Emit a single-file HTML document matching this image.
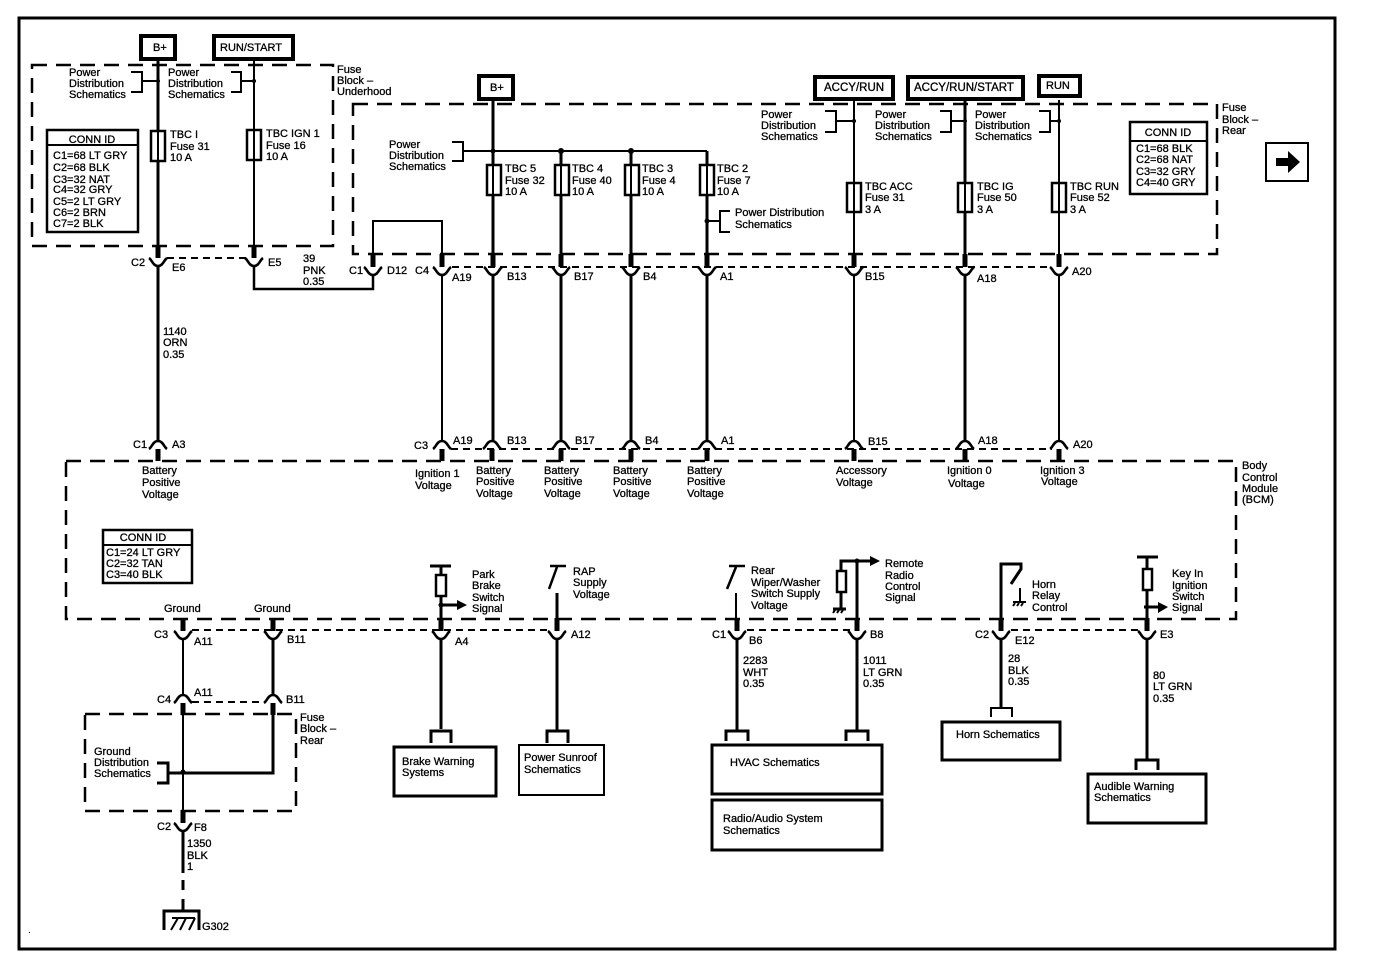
<!DOCTYPE html>
<html><head><meta charset="utf-8"><style>
html,body{margin:0;padding:0;background:#fff;width:1376px;height:978px;overflow:hidden}
svg{display:block}
text{font-family:"Liberation Sans",sans-serif;font-size:11px;fill:#000;stroke:#000;stroke-width:.3}
.l{fill:none;stroke:#000;stroke-width:2}
.m{fill:none;stroke:#000;stroke-width:3}
.s{fill:none;stroke:#000;stroke-width:2.5}
.b{fill:none;stroke:#000;stroke-width:2.5;stroke-dasharray:15 9}
.d{fill:none;stroke:#000;stroke-width:2;stroke-dasharray:7 5}
.t{fill:#fff;stroke:#000;stroke-width:4}
.x{fill:#fff;stroke:#000;stroke-width:2.5}
.h{font-size:11.5px}
</style></head><body>
<svg width="1376" height="978" viewBox="0 0 1376 978" xmlns="http://www.w3.org/2000/svg">
<defs>
<g id="dn"><path d="M0 -13V0" stroke="#000" stroke-width="5" fill="none"/><path d="M-9 0C-6 2 -5 8 0 8C5 8 6 2 9 0" fill="none" stroke="#000" stroke-width="2.6"/></g>
<g id="up"><path d="M0 0V12" stroke="#000" stroke-width="5" fill="none"/><path d="M-9 0C-6 -2 -5 -8 0 -8C5 -8 6 -2 9 0" fill="none" stroke="#000" stroke-width="2.6"/></g>
</defs>
<rect x="19" y="18" width="1316" height="931" fill="none" stroke="#000" stroke-width="3"/>
<rect x="29" y="932" width="1" height="1" fill="#000"/>

<!-- dashed enclosures -->
<rect class="b" x="32" y="65" width="301" height="181"/>
<rect class="b" x="353" y="104" width="864" height="150"/>
<rect class="b" x="66" y="461" width="1170" height="158"/>
<rect class="b" x="85" y="714" width="211" height="97"/>

<!-- dashed connector rows -->
<path class="d" d="M167 258H246"/>
<path class="d" d="M452 267H1052"/>
<path class="d" d="M451 449H1052"/>
<path class="d" d="M192 630H547"/>
<path class="d" d="M747 630H850"/>
<path class="d" d="M1011 630H1140"/>
<path class="d" d="M192 702H265"/>

<!-- power boxes -->
<rect class="t" x="141" y="36" width="34" height="23"/>
<rect class="t" x="214" y="36" width="79" height="23"/>
<rect class="t" x="479" y="76" width="34" height="23"/>
<rect class="t" x="815" y="77" width="78" height="22"/>
<rect class="t" x="908" y="77" width="115" height="22"/>
<rect class="t" x="1039" y="76" width="41" height="20"/>

<!-- upper wires -->
<path class="m" d="M158 61V245M158 266V441"/>
<path class="l" d="M254 61V245"/>
<path class="s" d="M254 266V289H373V275"/>
<path class="l" d="M373 254V221H442V256"/>
<path class="l" d="M442 275V441"/>
<path class="m" d="M493 100V256"/>
<path class="m" d="M493 275V441M561 275V441M631 275V441M707 275V441"/>
<path class="l" d="M463 151H707"/>
<path class="m" d="M561 151V256M631 151V256M707 151V256"/>
<path class="l" d="M854 100V256M854 275V441"/>
<path class="m" d="M965 100V256M965 275V441"/>
<path class="l" d="M1059 100V256M1059 275V441"/>

<!-- brackets -->
<path class="l" d="M131 72H142V92H131M142 81H158"/>
<path class="l" d="M231 72H241V92H231M241 81H254"/>
<path class="l" d="M452 142H463V161H452"/>
<path class="l" d="M730 211H720V232H730M720 221H707"/>
<path class="l" d="M825 111H836V132H825M836 121H854"/>
<path class="l" d="M940 111H951V132H940M951 121H965"/>
<path class="l" d="M1039 111H1050V132H1039M1050 121H1059"/>
<g fill="#000"><circle cx="158" cy="81" r="2"/><circle cx="254" cy="81" r="2"/><circle cx="493" cy="151" r="2.5"/><circle cx="561" cy="151" r="3"/><circle cx="631" cy="151" r="3"/><circle cx="707" cy="221" r="2.5"/><circle cx="854" cy="121" r="2"/><circle cx="965" cy="121" r="2"/><circle cx="1059" cy="121" r="2"/><circle cx="183" cy="772" r="2.5"/><circle cx="441" cy="605" r="2.5"/><circle cx="857" cy="561" r="2.5"/></g>

<!-- fuses -->
<rect class="x" x="151" y="131" width="14" height="30"/>
<rect class="x" x="247" y="130" width="14" height="30"/>
<rect class="x" x="487" y="165" width="14" height="30"/>
<rect class="x" x="555" y="165" width="14" height="30"/>
<rect class="x" x="625" y="165" width="14" height="30"/>
<rect class="x" x="700" y="165" width="14" height="30"/>
<rect class="x" x="847" y="183" width="14" height="29"/>
<rect class="x" x="958" y="183" width="14" height="29"/>
<rect class="x" x="1052" y="183" width="14" height="29"/>
<path class="l" d="M158 131V161M254 130V160M493 165V195M561 165V195M631 165V195M707 165V195M854 183V212M965 183V212M1059 183V212"/>

<!-- connectors -->
<use href="#dn" x="158" y="258"/><use href="#dn" x="254" y="258"/>
<use href="#dn" x="373" y="267"/><use href="#dn" x="442" y="267"/><use href="#dn" x="493" y="267"/><use href="#dn" x="561" y="267"/><use href="#dn" x="631" y="267"/><use href="#dn" x="707" y="267"/><use href="#dn" x="854" y="267"/><use href="#dn" x="965" y="267"/><use href="#dn" x="1059" y="267"/>
<use href="#up" x="158" y="449"/><use href="#up" x="442" y="449"/><use href="#up" x="492" y="449"/><use href="#up" x="561" y="449"/><use href="#up" x="631" y="449"/><use href="#up" x="707" y="449"/><use href="#up" x="854" y="449"/><use href="#up" x="965" y="449"/><use href="#up" x="1059" y="449"/>
<use href="#dn" x="183" y="631"/><use href="#dn" x="273" y="631"/><use href="#dn" x="441" y="631"/><use href="#dn" x="557" y="631"/><use href="#dn" x="737" y="631"/><use href="#dn" x="857" y="631"/><use href="#dn" x="1001" y="631"/><use href="#dn" x="1147" y="631"/>
<use href="#up" x="183" y="703"/><use href="#up" x="273" y="703"/>
<use href="#dn" x="183" y="823"/>

<!-- conn id boxes -->
<rect x="47" y="130" width="91" height="102" class="x"/><path class="l" d="M47 145H138"/>
<rect x="1130" y="122" width="77" height="72" class="x"/><path class="l" d="M1130 141H1207"/>
<rect x="103" y="530" width="89" height="53" class="x"/><path class="l" d="M103 545H192"/>

<!-- nav arrow -->
<rect x="1266" y="143" width="42" height="38" fill="#fff" stroke="#000" stroke-width="2"/>
<path d="M1276 158H1288V151L1300 162L1288 173V166H1276Z" fill="#000"/>

<!-- lower left -->
<path class="l" d="M183 638V695M183 714V811"/>
<path class="m" d="M273 638V695M273 714V773H168"/>
<path class="m" d="M157 763H168V783H157"/>
<path class="m" d="M183 830V873M183 880V890M183 899V910"/>
<path class="m" d="M164 930V911H199V930"/>
<path class="l" d="M172 918H195M178 918L171 930M186 918L180 930M195 918L189 930"/>

<!-- park brake -->
<path class="m" d="M430 566H451"/><path class="m" d="M441 566V575M441 596V618"/>
<rect class="x" x="436" y="575" width="10" height="21"/>
<path class="m" d="M441 605H457"/><path d="M457 600L467 605L457 610Z" fill="#000"/>
<path class="m" d="M441 640V729"/>
<path class="m" d="M431 743V731H451V743"/>
<rect class="m" x="394" y="747" width="102" height="49"/>

<!-- RAP -->
<path class="s" d="M550 566H566M557 567L549 589"/>
<path class="m" d="M557 593V618"/>
<path class="m" d="M557 640V730"/>
<path class="m" d="M547 743V731H568V743"/>
<rect class="l" x="519" y="745" width="85" height="50"/>

<!-- rear wiper -->
<path class="s" d="M729 566H745M736 567L727 589"/>
<path class="l" d="M736 593V618"/>
<path class="m" d="M737 638V731"/>
<path class="m" d="M726 741V731H748V741"/>
<rect class="m" x="712" y="745" width="170" height="49"/>
<rect class="m" x="712" y="800" width="170" height="50"/>

<!-- remote radio -->
<path class="m" d="M857 561V618M841 571V561H870M857 638V731"/>
<path d="M870 556L880 561L870 566Z" fill="#000"/>
<rect class="x" x="837" y="571" width="9" height="21"/>
<path class="m" d="M841 592V608M833 609H846"/>
<path class="l" d="M835 610L833 613M839 610L837 613M843 610L841 613"/>
<path class="m" d="M846 741V731H868V741"/>

<!-- horn -->
<path class="m" d="M1001 618V564H1021V569L1011 584"/>
<path class="l" d="M1020 588V602M1013 602H1026M1015 603L1013 606M1019 603L1017 606M1023 603L1021 606"/>
<path class="m" d="M1001 638V707"/>
<path class="l" d="M991 717V708H1012V717"/>
<rect class="m" x="942" y="722" width="118" height="38"/>

<!-- key in -->
<path class="m" d="M1137 557H1158M1147 557V569M1147 590V618M1144 607H1158"/>
<rect class="x" x="1143" y="569" width="9" height="21"/>
<path d="M1158 602L1168 607L1158 613Z" fill="#000"/>
<path class="m" d="M1147 638V760"/>
<path class="m" d="M1136 770V760H1158V770"/>
<rect class="m" x="1088" y="774" width="118" height="49"/>

<!-- labels -->
<text x="153" y="51">B+</text>
<text x="220" y="51">RUN/START</text>
<text x="490" y="91">B+</text>
<text x="824" y="91" class="h">ACCY/RUN</text>
<text x="914" y="91" class="h">ACCY/RUN/START</text>
<text x="1046" y="89">RUN</text>

<text x="69" y="76">Power</text><text x="69" y="87">Distribution</text><text x="69" y="98">Schematics</text>
<text x="168" y="76">Power</text><text x="168" y="87">Distribution</text><text x="168" y="98">Schematics</text>
<text x="337" y="73">Fuse</text><text x="337" y="84">Block –</text><text x="337" y="95">Underhood</text>
<text x="170" y="138">TBC I</text><text x="170" y="150">Fuse 31</text><text x="170" y="161">10 A</text>
<text x="266" y="137">TBC IGN 1</text><text x="266" y="149">Fuse 16</text><text x="266" y="160">10 A</text>

<text x="92" y="143" text-anchor="middle">CONN ID</text>
<text x="53" y="159">C1=68 LT GRY</text><text x="53" y="171">C2=68 BLK</text><text x="53" y="183">C3=32 NAT</text><text x="53" y="193">C4=32 GRY</text><text x="53" y="205">C5=2 LT GRY</text><text x="53" y="216">C6=2 BRN</text><text x="53" y="227">C7=2 BLK</text>

<text x="389" y="148">Power</text><text x="389" y="159">Distribution</text><text x="389" y="170">Schematics</text>
<text x="505" y="172">TBC 5</text><text x="505" y="184">Fuse 32</text><text x="505" y="195">10 A</text>
<text x="572" y="172">TBC 4</text><text x="572" y="184">Fuse 40</text><text x="572" y="195">10 A</text>
<text x="642" y="172">TBC 3</text><text x="642" y="184">Fuse 4</text><text x="642" y="195">10 A</text>
<text x="717" y="172">TBC 2</text><text x="717" y="184">Fuse 7</text><text x="717" y="195">10 A</text>
<text x="735" y="216">Power Distribution</text><text x="735" y="228">Schematics</text>

<text x="761" y="118">Power</text><text x="761" y="129">Distribution</text><text x="761" y="140">Schematics</text>
<text x="875" y="118">Power</text><text x="875" y="129">Distribution</text><text x="875" y="140">Schematics</text>
<text x="975" y="118">Power</text><text x="975" y="129">Distribution</text><text x="975" y="140">Schematics</text>
<text x="865" y="190">TBC ACC</text><text x="865" y="201">Fuse 31</text><text x="865" y="213">3 A</text>
<text x="977" y="190">TBC IG</text><text x="977" y="201">Fuse 50</text><text x="977" y="213">3 A</text>
<text x="1070" y="190">TBC RUN</text><text x="1070" y="201">Fuse 52</text><text x="1070" y="213">3 A</text>
<text x="1222" y="111">Fuse</text><text x="1222" y="123">Block –</text><text x="1222" y="134">Rear</text>

<text x="1168" y="136" text-anchor="middle">CONN ID</text>
<text x="1136" y="152">C1=68 BLK</text><text x="1136" y="163">C2=68 NAT</text><text x="1136" y="175">C3=32 GRY</text><text x="1136" y="186">C4=40 GRY</text>

<text x="131" y="266">C2</text><text x="172" y="271">E6</text><text x="268" y="266">E5</text>
<text x="303" y="262">39</text><text x="303" y="274">PNK</text><text x="303" y="285">0.35</text>
<text x="349" y="274">C1</text><text x="387" y="274">D12</text><text x="415" y="274">C4</text><text x="452" y="281">A19</text>
<text x="507" y="280">B13</text><text x="574" y="280">B17</text><text x="643" y="280">B4</text><text x="720" y="280">A1</text><text x="865" y="280">B15</text><text x="977" y="282">A18</text><text x="1072" y="275">A20</text>
<text x="163" y="335">1140</text><text x="163" y="346">ORN</text><text x="163" y="358">0.35</text>

<text x="133" y="448">C1</text><text x="172" y="448">A3</text><text x="414" y="449">C3</text><text x="453" y="444">A19</text><text x="507" y="444">B13</text><text x="575" y="444">B17</text><text x="645" y="444">B4</text><text x="721" y="444">A1</text><text x="868" y="445">B15</text><text x="978" y="444">A18</text><text x="1073" y="448">A20</text>

<text x="142" y="474">Battery</text><text x="142" y="486">Positive</text><text x="142" y="498">Voltage</text>
<text x="415" y="477">Ignition 1</text><text x="415" y="489">Voltage</text>
<text x="476" y="474">Battery</text><text x="476" y="485">Positive</text><text x="476" y="497">Voltage</text>
<text x="544" y="474">Battery</text><text x="544" y="485">Positive</text><text x="544" y="497">Voltage</text>
<text x="613" y="474">Battery</text><text x="613" y="485">Positive</text><text x="613" y="497">Voltage</text>
<text x="687" y="474">Battery</text><text x="687" y="485">Positive</text><text x="687" y="497">Voltage</text>
<text x="836" y="474">Accessory</text><text x="836" y="486">Voltage</text>
<text x="947" y="474">Ignition 0</text><text x="948" y="487">Voltage</text>
<text x="1040" y="474">Ignition 3</text><text x="1041" y="485">Voltage</text>
<text x="1242" y="469">Body</text><text x="1242" y="481">Control</text><text x="1242" y="492">Module</text><text x="1242" y="503">(BCM)</text>

<text x="143" y="541" text-anchor="middle">CONN ID</text>
<text x="106" y="556">C1=24 LT GRY</text><text x="106" y="567">C2=32 TAN</text><text x="106" y="578">C3=40 BLK</text>

<text x="164" y="612">Ground</text><text x="254" y="612">Ground</text>
<text x="154" y="638">C3</text><text x="194" y="645">A11</text><text x="287" y="643">B11</text>
<text x="157" y="703">C4</text><text x="194" y="696">A11</text><text x="286" y="703">B11</text>
<text x="300" y="721">Fuse</text><text x="300" y="732">Block –</text><text x="300" y="744">Rear</text>
<text x="94" y="755">Ground</text><text x="94" y="766">Distribution</text><text x="94" y="777">Schematics</text>
<text x="157" y="830">C2</text><text x="194" y="831">F8</text>
<text x="187" y="847">1350</text><text x="187" y="859">BLK</text><text x="187" y="870">1</text>
<text x="202" y="930">G302</text>

<text x="472" y="578">Park</text><text x="472" y="589">Brake</text><text x="472" y="601">Switch</text><text x="472" y="612">Signal</text>
<text x="455" y="645">A4</text><text x="571" y="638">A12</text>
<text x="573" y="575">RAP</text><text x="573" y="586">Supply</text><text x="573" y="598">Voltage</text>
<text x="402" y="765">Brake Warning</text><text x="402" y="776">Systems</text>
<text x="524" y="761">Power Sunroof</text><text x="524" y="773">Schematics</text>

<text x="751" y="574">Rear</text><text x="751" y="586">Wiper/Washer</text><text x="751" y="597">Switch Supply</text><text x="751" y="609">Voltage</text>
<text x="885" y="567">Remote</text><text x="885" y="579">Radio</text><text x="885" y="590">Control</text><text x="885" y="601">Signal</text>
<text x="712" y="638">C1</text><text x="749" y="644">B6</text><text x="870" y="638">B8</text>
<text x="743" y="664">2283</text><text x="743" y="676">WHT</text><text x="743" y="687">0.35</text>
<text x="863" y="664">1011</text><text x="863" y="676">LT GRN</text><text x="863" y="687">0.35</text>
<text x="730" y="766">HVAC Schematics</text>
<text x="723" y="822">Radio/Audio System</text><text x="723" y="834">Schematics</text>

<text x="1032" y="588">Horn</text><text x="1032" y="599">Relay</text><text x="1032" y="611">Control</text>
<text x="975" y="638">C2</text><text x="1015" y="644">E12</text>
<text x="1008" y="662">28</text><text x="1008" y="674">BLK</text><text x="1008" y="685">0.35</text>
<text x="956" y="738">Horn Schematics</text>

<text x="1172" y="577">Key In</text><text x="1172" y="589">Ignition</text><text x="1172" y="600">Switch</text><text x="1172" y="611">Signal</text>
<text x="1160" y="638">E3</text>
<text x="1153" y="679">80</text><text x="1153" y="690">LT GRN</text><text x="1153" y="702">0.35</text>
<text x="1094" y="790">Audible Warning</text><text x="1094" y="801">Schematics</text>
</svg>
</body></html>
